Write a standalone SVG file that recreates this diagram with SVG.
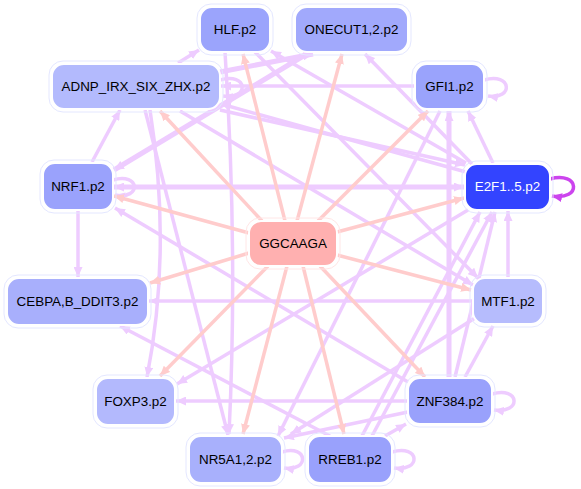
<svg xmlns="http://www.w3.org/2000/svg" width="581" height="489" viewBox="0 0 581 489">
<defs>
<style>
.e{fill:none;stroke:#eeccff;stroke-width:3.5;marker-end:url(#ap)}
.t{stroke-width:5}
.p{fill:none;stroke:#ffcccc;stroke-width:3.5;marker-end:url(#ak)}
.n{stroke:#ffffff;stroke-width:2}
.o{fill:none;stroke:#e4e7ff;stroke-width:1}
text{font-family:"Liberation Sans",Arial,sans-serif;font-size:13.4px;text-anchor:middle;fill:#000}
</style>
<marker id="ap" markerUnits="userSpaceOnUse" markerWidth="11" markerHeight="9" refX="10" refY="4.5" orient="auto"><path d="M0,0 L10,4.5 L0,9 z" fill="#eeccff"/></marker>
<marker id="aps" markerUnits="userSpaceOnUse" markerWidth="11" markerHeight="9" refX="0" refY="4.5" orient="auto"><path d="M10,0 L0,4.5 L10,9 z" fill="#eeccff"/></marker>
<marker id="ak" markerUnits="userSpaceOnUse" markerWidth="11" markerHeight="9" refX="10" refY="4.5" orient="auto"><path d="M0,0 L10,4.5 L0,9 z" fill="#ffcccc"/></marker>
<marker id="ad" markerUnits="userSpaceOnUse" markerWidth="11" markerHeight="9" refX="10" refY="4.5" orient="auto"><path d="M0,0 L10,4.5 L0,9 z" fill="#cc44ee"/></marker>
</defs>
<rect width="581" height="489" fill="#ffffff"/>
<g id="connectors">
<path class="e" d="M78,210 L78,277"/>
<path class="e" d="M508,278 L508,211"/>
<path class="e t" style="marker-start:url(#aps)" d="M114,187 L464,187"/>
<path class="e" d="M473,301 L149,301"/>
<path class="e" d="M408,401 L176,401"/>
<path class="e" d="M415,86 L221,86"/>
<path class="e" d="M178,63 L199,50"/>
<path class="e t" d="M310,52 L114,170"/>
<path class="e t" d="M220,72 L313,54"/>
<path class="e" d="M92,162 L120,110"/>
<path class="e" d="M150,110 Q172,250 147,377"/>
<path class="e" d="M145,110 L228,435"/>
<path class="e" d="M225,52 Q238,250 229,434"/>
<path class="e t" d="M449,377 L449,111"/>
<path class="e" d="M493,163 L468,111"/>
<path class="e" d="M472,164 L365,54"/>
<path class="e" d="M465,377 L493,326"/>
<path class="e" d="M385,436 L406,424"/>
<path class="e" d="M330,436 L120,326"/>
<path class="e" d="M408,382 L115,208"/>
<path class="e" d="M362,436 L480,212"/>
<path class="e" d="M372,436 L492,212"/>
<path class="e" d="M408,412 L284,438"/>
<path class="e" d="M475,318 L291,434"/>
<path class="e" d="M440,111 L278,436"/>
<path class="e" d="M468,210 L177,384"/>
<path class="e" d="M220,110 L465,165"/>
<path class="e" d="M466,172 L221,104"/>
<path class="e" d="M180,111 L473,285"/>
<path class="e" d="M466,163 L271,51"/>
<path class="e" d="M255,52 L478,278"/>
<path class="e" d="M455,377 L495,212"/>
<path class="e" d="M484,80 C512,72 514,100 488,96"/>
<path class="e" d="M220,80 C248,72 250,100 223,96"/>
<path class="e" d="M113,180 C140,172 142,200 115,195"/>
<path class="e" d="M492,394 C520,386 522,414 494,410"/>
<path class="e" d="M392,452 C420,444 422,472 394,468"/>
<path class="e" d="M282,452 C308,444 310,472 284,468"/>
<path d="M550,179 C580,171 582,201 552,196" fill="none" stroke="#cc44ee" stroke-width="3.5" marker-end="url(#ad)"/>
<path class="p" d="M285,221 L243,54"/>
<path class="p" d="M297,221 L342,54"/>
<path class="p" d="M262,221 L160,111"/>
<path class="p" d="M318,221 L428,111"/>
<path class="p" d="M249,233 L114,196"/>
<path class="p" d="M337,232 L464,198"/>
<path class="p" d="M249,253 L150,283"/>
<path class="p" d="M337,255 L471,290"/>
<path class="p" d="M268,266 L160,376"/>
<path class="p" d="M320,266 L425,377"/>
<path class="p" d="M287,266 L243,434"/>
<path class="p" d="M303,266 L344,434"/>
</g>
<g id="HLF"><rect class="o" x="197" y="4" width="76" height="51" rx="14"/><rect class="n" x="200" y="7" width="70" height="45" rx="12" fill="#9ba4fc"/><text x="235" y="34">HLF.p2</text></g>
<g id="ONECUT"><rect class="o" x="292" y="4" width="119" height="51" rx="14"/><rect class="n" x="295" y="7" width="113" height="45" rx="12" fill="#a1a9fc"/><text x="351.5" y="34">ONECUT1,2.p2</text></g>
<g id="ADNP"><rect class="o" x="49" y="61" width="174" height="51" rx="14"/><rect class="n" x="52" y="64" width="168" height="45" rx="12" fill="#b3bafd"/><text x="136" y="91">ADNP_IRX_SIX_ZHX.p2</text></g>
<g id="GFI1"><rect class="o" x="412" y="61" width="75" height="51" rx="14"/><rect class="n" x="415" y="64" width="69" height="45" rx="12" fill="#9aa3fc"/><text x="449.5" y="91">GFI1.p2</text></g>
<g id="NRF1"><rect class="o" x="40" y="160" width="76" height="53" rx="14"/><rect class="n" x="43" y="163" width="70" height="47" rx="12" fill="#9aa2fc"/><text x="78" y="191">NRF1.p2</text></g>
<g id="E2F1"><rect class="o" x="462" y="161" width="91" height="52" rx="14"/><rect class="n" x="465" y="164" width="85" height="46" rx="12" fill="#3344ff"/><text x="507.5" y="191" style="fill:#ffffff">E2F1..5.p2</text></g>
<g id="GGCAAGA"><rect x="246" y="218" width="94" height="51" rx="14" fill="none" stroke="#ffe6e6" stroke-width="1"/><rect class="n" x="249" y="221" width="88" height="45" rx="12" fill="#ffb0b0"/><text x="293" y="248">GGCAAGA</text></g>
<g id="CEBPA"><rect class="o" x="4" y="275" width="147" height="53" rx="14"/><rect class="n" x="7" y="278" width="141" height="47" rx="12" fill="#a8affc"/><text x="77.5" y="306">CEBPA,B_DDIT3.p2</text></g>
<g id="MTF1"><rect class="o" x="470" y="275" width="76" height="52" rx="14"/><rect class="n" x="473" y="278" width="70" height="46" rx="12" fill="#b6bcfd"/><text x="508" y="306">MTF1.p2</text></g>
<g id="FOXP3"><rect class="o" x="93" y="375" width="85" height="53" rx="14"/><rect class="n" x="96" y="378" width="79" height="47" rx="12" fill="#b3b9fd"/><text x="135.5" y="406">FOXP3.p2</text></g>
<g id="ZNF384"><rect class="o" x="405" y="375" width="90" height="52" rx="14"/><rect class="n" x="408" y="378" width="84" height="46" rx="12" fill="#99a1fc"/><text x="450" y="406">ZNF384.p2</text></g>
<g id="NR5A1"><rect class="o" x="186" y="433" width="99" height="53" rx="14"/><rect class="n" x="189" y="436" width="93" height="47" rx="12" fill="#a8b0fc"/><text x="235.5" y="464">NR5A1,2.p2</text></g>
<g id="RREB1"><rect class="o" x="305" y="433" width="90" height="53" rx="14"/><rect class="n" x="308" y="436" width="84" height="47" rx="12" fill="#99a1fc"/><text x="350" y="464">RREB1.p2</text></g>
</svg>
